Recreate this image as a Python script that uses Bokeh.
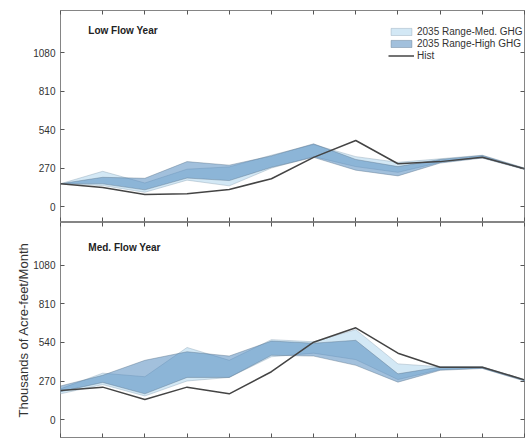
from bokeh.plotting import figure
from bokeh.models import (LinearAxis, FixedTicker, Range1d, Label, Legend,
                          LegendItem)
from bokeh.layouts import column
from bokeh.embed import file_html
from bokeh.resources import INLINE

months = list(range(1, 13))
y_ticks = [0, 270, 540, 810, 1080]

# Low flow year
low_hist = [160, 133, 85, 90, 120, 195, 345, 463, 300, 315, 345, 265]
low_med_lo = [160, 147, 100, 185, 145, 270, 350, 280, 240, 310, 345, 262]
low_med_hi = [160, 247, 165, 262, 278, 360, 435, 350, 310, 335, 360, 270]
low_high_lo = [160, 159, 117, 200, 182, 275, 345, 255, 215, 305, 340, 260]
low_high_hi = [160, 205, 198, 315, 290, 355, 440, 330, 280, 330, 358, 268]

# Medium flow year
med_hist = [203, 227, 140, 227, 180, 335, 542, 643, 465, 367, 367, 278]
med_med_lo = [180, 245, 165, 270, 295, 440, 465, 420, 280, 350, 360, 272]
med_med_hi = [215, 325, 300, 505, 415, 560, 545, 630, 390, 370, 370, 280]
med_high_lo = [195, 260, 180, 295, 295, 450, 445, 380, 262, 345, 358, 270]
med_high_hi = [235, 310, 415, 475, 445, 550, 535, 555, 320, 368, 368, 278]

FONT = "Liberation Sans"
FRAME = "#858585"
TXT = "#333333"


def add_axes(p, ylabel=None):
    common = dict(major_tick_in=4, major_tick_out=0, minor_tick_in=0,
                  minor_tick_out=0, axis_line_color=None,
                  major_tick_line_color="#555555")
    hidden = dict(major_label_text_font_size="1px", major_label_text_alpha=0,
                  major_label_standoff=0)
    left = LinearAxis(ticker=FixedTicker(ticks=y_ticks),
                      major_label_text_font_size="10px",
                      major_label_text_font=FONT,
                      major_label_text_color=TXT,
                      major_label_standoff=5, **common)
    if ylabel:
        left.axis_label = ylabel
        left.axis_label_text_font = FONT
        left.axis_label_text_font_size = "13px"
        left.axis_label_text_font_style = "normal"
        left.axis_label_text_color = TXT
        left.axis_label_standoff = -1
    right = LinearAxis(ticker=FixedTicker(ticks=y_ticks), **common, **hidden)
    below = LinearAxis(ticker=FixedTicker(ticks=months), **common, **hidden)
    above = LinearAxis(ticker=FixedTicker(ticks=months), **common, **hidden)
    p.add_layout(left, "left")
    p.add_layout(right, "right")
    p.add_layout(below, "below")
    p.add_layout(above, "above")


def make_panel(title, title_y, hist, mlo, mhi, hlo, hhi, height, y0, y1,
               btop, bbot, ylabel=None, legend=False):
    p = figure(width=526, height=height, output_backend="svg",
               toolbar_location=None, x_range=Range1d(1, 12),
               y_range=Range1d(y0, y1), x_axis_location=None,
               y_axis_location=None, min_border_left=60, min_border_right=2,
               min_border_top=btop, min_border_bottom=bbot)
    p.grid.visible = False
    p.outline_line_color = FRAME
    p.outline_line_width = 1
    p.background_fill_color = "white"
    p.border_fill_color = "white"
    add_axes(p, ylabel)

    r_med = p.patch(months + months[::-1], mhi + mlo[::-1],
                    fill_color="#d3e8f5", fill_alpha=1.0,
                    line_color="#8fa3b4", line_alpha=0.6, line_width=0.7)
    r_high = p.patch(months + months[::-1], hhi + hlo[::-1],
                     fill_color="#4682b9", fill_alpha=0.5,
                     line_color="#5f778c", line_alpha=0.6, line_width=0.7)
    r_hist = p.line(months, hist, line_color="#444444", line_width=1.5)

    p.add_layout(Label(x=1.66, y=title_y, text=title, text_font=FONT,
                       text_font_style="bold", text_font_size="10px",
                       text_color="#222222", text_baseline="middle"))
    if legend:
        lg = Legend(items=[
            LegendItem(label="2035 Range-Med. GHG", renderers=[r_med]),
            LegendItem(label="2035 Range-High GHG", renderers=[r_high]),
            LegendItem(label="Hist", renderers=[r_hist]),
        ], location=(328, 160), padding=0, margin=0, spacing=1,
            glyph_width=26, glyph_height=9, label_standoff=3,
            label_height=10, label_width=10,
            label_text_font=FONT, label_text_font_size="10px",
            label_text_color=TXT, border_line_color=None,
            background_fill_alpha=0)
        p.add_layout(lg)
    return p


top = make_panel("Low Flow Year", 1234, low_hist, low_med_lo, low_med_hi,
                 low_high_lo, low_high_hi, 222, -105, 1375, 10, 1,
                 legend=True)
bottom = make_panel("Med. Flow Year", 1206, med_hist, med_med_lo, med_med_hi,
                    med_high_lo, med_high_hi, 217, -126, 1381, 0, 2,
                    ylabel="Thousands of Acre-feet/Month")

layout = column(top, bottom, spacing=0)
open("out.html", "w").write(file_html(layout, INLINE))
